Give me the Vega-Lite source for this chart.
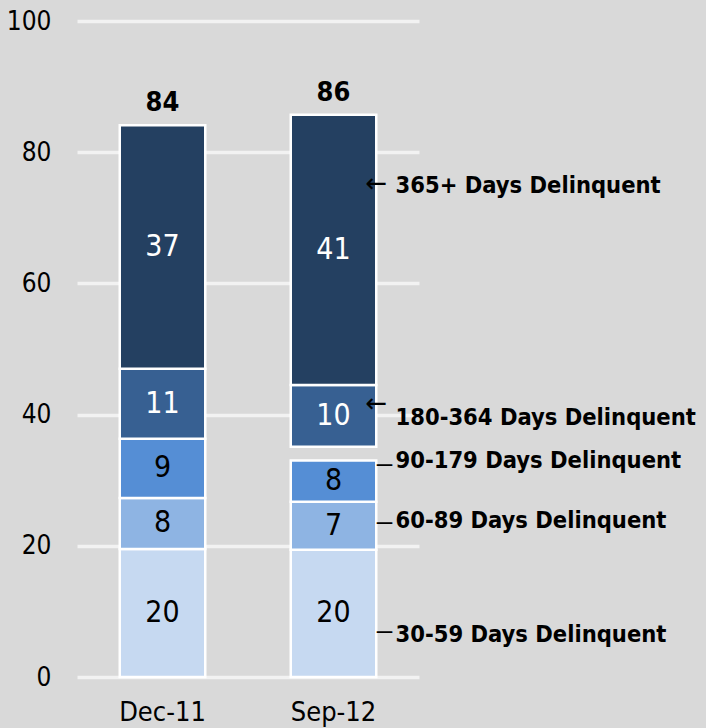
{
  "$schema": "https://vega.github.io/schema/vega-lite/v6.json",
  "width": 342,
  "height": 656,
  "autosize": {"type": "none"},
  "padding": {"left": 77, "top": 21, "right": 287, "bottom": 51},
  "background": "#d9d9d9",
  "config": {
    "view": {"stroke": null},
    "font": "DejaVu Sans Condensed, Liberation Sans, sans-serif"
  },
  "datasets": {
    "segments": [
      {"period": "Dec-11", "series": "30-59", "start": 0, "end": 19.5, "label": 20},
      {"period": "Dec-11", "series": "60-89", "start": 19.5, "end": 27.3, "label": 8},
      {"period": "Dec-11", "series": "90-179", "start": 27.3, "end": 36.3, "label": 9},
      {"period": "Dec-11", "series": "180-364", "start": 36.3, "end": 47.0, "label": 11},
      {"period": "Dec-11", "series": "365+", "start": 47.0, "end": 84.1, "label": 37},
      {"period": "Sep-12", "series": "30-59", "start": 0, "end": 19.4, "label": 20},
      {"period": "Sep-12", "series": "60-89", "start": 19.4, "end": 26.7, "label": 7},
      {"period": "Sep-12", "series": "90-179", "start": 26.7, "end": 33.0, "label": 8},
      {"period": "Sep-12", "series": "180-364", "start": 35.1, "end": 44.5, "label": 10},
      {"period": "Sep-12", "series": "365+", "start": 44.5, "end": 85.7, "label": 41}
    ],
    "totals": [
      {"period": "Dec-11", "total": 84.1, "label": 84},
      {"period": "Sep-12", "total": 85.7, "label": 86}
    ],
    "notes": [
      {"period": "Sep-12", "at": 74.8, "text": "365+ Days Delinquent"},
      {"period": "Sep-12", "at": 39.5, "text": "180-364 Days Delinquent"},
      {"period": "Sep-12", "at": 33.0, "text": "90-179 Days Delinquent"},
      {"period": "Sep-12", "at": 23.8, "text": "60-89 Days Delinquent"},
      {"period": "Sep-12", "at": 6.4, "text": "30-59 Days Delinquent"}
    ],
    "connectors": [
      {"period": "Sep-12", "at": 75.1, "kind": "arrow", "glyph": "←"},
      {"period": "Sep-12", "at": 41.6, "kind": "arrow", "glyph": "←"},
      {"period": "Sep-12", "at": 32.4, "kind": "dash", "glyph": "–"},
      {"period": "Sep-12", "at": 23.6, "kind": "dash", "glyph": "–"},
      {"period": "Sep-12", "at": 7.0, "kind": "dash", "glyph": "–"}
    ]
  },
  "encoding": {
    "x": {
      "field": "period",
      "type": "nominal",
      "scale": {"domain": ["Dec-11", "Sep-12"], "paddingInner": 0.5, "paddingOuter": 0.25},
      "axis": {
        "title": null,
        "domain": false,
        "ticks": false,
        "labelAngle": 0,
        "labelFontSize": 27,
        "labelColor": "black",
        "labelPadding": 22
      }
    }
  },
  "layer": [
    {
      "data": {"name": "segments"},
      "mark": {"type": "bar", "stroke": "white", "strokeWidth": 2.5},
      "encoding": {
        "y": {
          "field": "start",
          "type": "quantitative",
          "scale": {"domain": [0, 100]},
          "axis": {
            "title": null,
            "values": [0, 20, 40, 60, 80, 100],
            "domain": false,
            "ticks": false,
            "grid": true,
            "gridColor": "#f2f2f2",
            "gridWidth": 3.5,
            "labelFontSize": 26,
            "labelColor": "black",
            "labelPadding": 26
          }
        },
        "y2": {"field": "end"},
        "color": {
          "field": "series",
          "type": "nominal",
          "scale": {
            "domain": ["30-59", "60-89", "90-179", "180-364", "365+"],
            "range": ["#c6d9f1", "#8eb4e3", "#558ed5", "#376092", "#244061"]
          },
          "legend": null
        }
      }
    },
    {
      "data": {"name": "segments"},
      "transform": [{"calculate": "(datum.start + datum.end) / 2", "as": "mid"}],
      "mark": {"type": "text", "fontSize": 30, "baseline": "middle", "align": "center"},
      "encoding": {
        "y": {"field": "mid", "type": "quantitative"},
        "text": {"field": "label"},
        "color": {
          "condition": {"test": "datum.series === '180-364' || datum.series === '365+'", "value": "white"},
          "value": "black"
        }
      }
    },
    {
      "data": {"name": "totals"},
      "mark": {"type": "text", "fontSize": 27, "fontWeight": "bold", "baseline": "middle", "align": "center", "dy": -22, "color": "black"},
      "encoding": {
        "y": {"field": "total", "type": "quantitative"},
        "text": {"field": "label"}
      }
    },
    {
      "data": {"name": "notes"},
      "mark": {"type": "text", "fontSize": 23.5, "fontWeight": "bold", "baseline": "middle", "align": "left", "dx": 62, "color": "black"},
      "encoding": {
        "y": {"field": "at", "type": "quantitative"},
        "text": {"field": "text"}
      }
    },
    {
      "data": {"name": "connectors"},
      "transform": [{"filter": "datum.kind === 'arrow'"}],
      "mark": {"type": "text", "fontSize": 26, "font": "DejaVu Sans", "baseline": "middle", "align": "center", "dx": 43, "color": "black"},
      "encoding": {
        "y": {"field": "at", "type": "quantitative"},
        "text": {"field": "glyph"}
      }
    },
    {
      "data": {"name": "connectors"},
      "transform": [{"filter": "datum.kind === 'dash'"}],
      "mark": {"type": "text", "fontSize": 28, "font": "Liberation Sans", "baseline": "middle", "align": "center", "dx": 51, "color": "black"},
      "encoding": {
        "y": {"field": "at", "type": "quantitative"},
        "text": {"field": "glyph"}
      }
    }
  ]
}
